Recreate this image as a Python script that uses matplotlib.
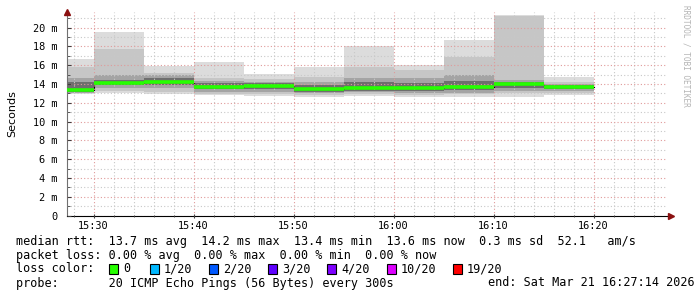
import matplotlib
matplotlib.use("Agg")
import matplotlib.pyplot as plt
from matplotlib.patches import Rectangle
from matplotlib.ticker import FixedLocator, FuncFormatter, MultipleLocator

# 5-minute bins (start time), round trip times in ms
starts = ["15:25", "15:30", "15:35", "15:40", "15:45", "15:50",
          "15:55", "16:00", "16:05", "16:10", "16:15"]
median = [13.35, 14.15, 14.2, 13.7, 13.75, 13.45, 13.6, 13.55, 13.72, 14.0, 13.7]
ping_max = [16.67, 19.5, 15.96, 16.35, 15.07, 15.85, 18.05, 16.03, 18.7, 21.35, 14.72]
p90 = [15.85, 17.7, 15.2, 14.6, 14.5, 14.8, 15.85, 15.5, 16.9, 21.2, 14.2]
p75 = [14.6, 14.97, 14.97, 14.33, 14.26, 14.26, 14.6, 14.6, 14.97, 14.44, 14.0]
p60 = [14.26, 14.44, 14.6, 14.08, 14.08, 13.9, 14.26, 14.08, 14.33, 14.2, 13.9]
p40 = [13.2, 13.9, 13.9, 13.45, 13.45, 13.2, 13.3, 13.3, 13.37, 13.55, 13.48]
p25 = [13.1, 13.55, 13.55, 13.2, 13.2, 13.0, 13.2, 13.1, 13.1, 13.27, 13.27]
p10 = [13.0, 13.3, 13.2, 12.95, 12.95, 12.8, 12.95, 12.85, 12.9, 13.0, 13.0]
ping_min = [12.95, 13.1, 12.95, 12.8, 12.73, 12.6, 12.73, 12.6, 12.66, 12.66, 12.84]

tick_times = ["15:30", "15:40", "15:50", "16:00", "16:10", "16:20"]
loss_labels = ["0", "1/20", "2/20", "3/20", "4/20", "10/20", "19/20"]
loss_colors = ["#26ff00", "#00b8ff", "#0059ff", "#5e00ff", "#7e00ff", "#dd00ff", "#ff0000"]

legend_rows = [
    "median rtt:  13.7 ms avg  14.2 ms max  13.4 ms min  13.6 ms now  0.3 ms sd  52.1   am/s",
    "packet loss: 0.00 % avg  0.00 % max  0.00 % min  0.00 % now",
    "loss color:",
    "probe:       20 ICMP Echo Pings (56 Bytes) every 300s",
]
end_text = "end: Sat Mar 21 16:27:14 2026"


def minutes(t):
    ''' minutes after 15:00 '''
    h, m = t.split(":")
    return (int(h) - 15) * 60 + int(m)


W, H = 697, 297
fig = plt.figure(figsize=(W / 100, H / 100), dpi=100)
ax = fig.add_axes([67 / W, (H - 215.7) / H, 600 / W, (215.7 - 12) / H])

x = [minutes(s) for s in starts]
bands = [(ping_min, ping_max, "#dcdcdc"), (p10, p90, "#c6c6c6"),
         (p25, p75, "#a4a4a4"), (p40, p60, "#6e6e6e")]
for lo, hi, col in bands:
    ax.bar(x, [h - l for l, h in zip(lo, hi)], bottom=lo, width=5, align="edge",
           color=col, linewidth=0, zorder=1)

ax.step(x + [x[-1] + 5], median + [median[-1]], where="post", color="black", lw=0.8, zorder=2)
ax.hlines(median, x, [v + 5 for v in x], color=loss_colors[0], lw=2.6, zorder=4)

ax.set_xlim(27.34, 87.34)
ax.set_ylim(0, 21.67)

# grid
ax.xaxis.set_major_locator(FixedLocator([minutes(t) for t in tick_times]))
ax.xaxis.set_minor_locator(MultipleLocator(2))
ax.yaxis.set_major_locator(MultipleLocator(2))
ax.yaxis.set_minor_locator(MultipleLocator(1))
ax.set_axisbelow(False)
ax.grid(which="minor", color="#c8c8c8", lw=0.8, ls=(0, (1, 2)), zorder=3)
ax.grid(which="major", color="#e09a9a", lw=0.8, ls=(0, (1, 2)), zorder=3)

ax.set_xticklabels(tick_times)
ax.yaxis.set_major_formatter(FuncFormatter(lambda v, p: "0" if v == 0 else "%d m" % v))
ax.tick_params(axis="both", which="both", labelsize=7.4, colors="#404040")
ax.tick_params(axis="x", which="major", length=3, direction="inout", pad=2, labelcolor="black")
ax.tick_params(axis="x", which="minor", length=2, direction="inout")
ax.tick_params(axis="y", which="major", length=3, direction="in", pad=7, labelcolor="black")
ax.tick_params(axis="y", which="minor", length=2, direction="in")
for lab in ax.get_xticklabels() + ax.get_yticklabels():
    lab.set_family("DejaVu Sans Mono")

for side in ("top", "right"):
    ax.spines[side].set_visible(False)
ax.spines["left"].set_color("#707070")
ax.spines["bottom"].set_color("black")

# axis arrows
ax.plot([27.34], [21.67], marker="^", color="#8b1010", ms=4, clip_on=False, zorder=5)
ax.plot([87.7], [0], marker=">", color="#8b1010", ms=4, clip_on=False, zorder=5)

ax.set_ylabel("Seconds", fontsize=8, labelpad=11)

fig.text(686 / W, 1 - 5 / H, "RRDTOOL / TOBI OETIKER", rotation=270, va="top", ha="center",
         family="DejaVu Sans Mono", fontsize=5.6, color="#b4b4b4")

# legend
rows_y = [241, 255, 269, 283]
for txt, yy in zip(legend_rows, rows_y):
    fig.text(16 / W, 1 - yy / H, txt, family="DejaVu Sans Mono", fontsize=8.5,
             va="center", ha="left")
fig.text(695 / W, 1 - rows_y[3] / H, end_text, family="DejaVu Sans Mono", fontsize=8.5,
         va="center", ha="right")

box_x = [109, 150, 209, 268, 327, 387, 453]
for bx, lab, col in zip(box_x, loss_labels, loss_colors):
    fig.patches.append(Rectangle((bx / W, 1 - (rows_y[2] + 5) / H), 9 / W, 10 / H,
                                 transform=fig.transFigure, facecolor=col,
                                 edgecolor="black", lw=0.8))
    fig.text((bx + 14) / W, 1 - rows_y[2] / H, lab, family="DejaVu Sans Mono",
             fontsize=8.5, va="center", ha="left")

fig.savefig("out.png", dpi=100, facecolor="white")
